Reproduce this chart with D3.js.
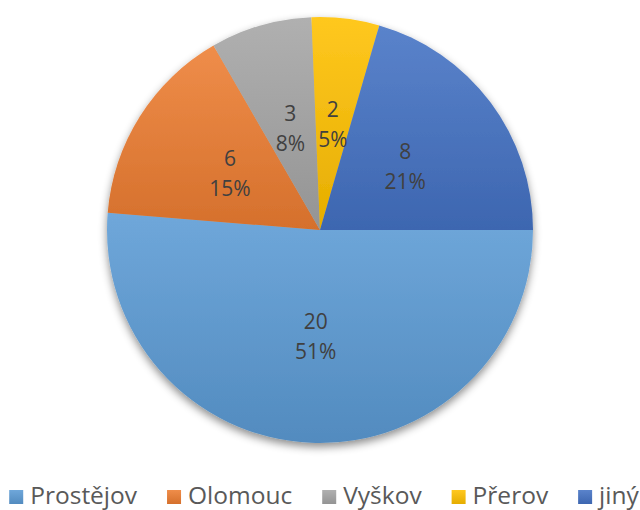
<!DOCTYPE html>
<html>
<head>
<meta charset="utf-8">
<script src="https://cdn.jsdelivr.net/npm/d3@7"></script>
<style>
  body { margin: 0; background: #fff; }
  svg { display: block; }
</style>
</head>
<body>
<div id="chart"></div>
<script>
const categories = ['Prostějov', 'Olomouc', 'Vyškov', 'Přerov', 'jiný'];
const values = [20, 6, 3, 2, 8];
const colors = ['#5B9BD5', '#ED7D31', '#A5A5A5', '#FFC000', '#4472C4'];

const w = 640;
const h = 510;
const cx = 320;
const cy = 230;
const r = 213;

const data = categories.map((c, i) => ({ name: c, value: values[i], color: colors[i] }));
const total = d3.sum(values);

const svg = d3
  .select('#chart')
  .append('svg')
  .attr('width', w)
  .attr('height', h);

const defs = svg.append('defs');

const shadow = defs
  .append('filter')
  .attr('id', 'shadow')
  .attr('x', '-10%')
  .attr('y', '-10%')
  .attr('width', '120%')
  .attr('height', '125%');
shadow
  .append('feDropShadow')
  .attr('dx', 0)
  .attr('dy', 4)
  .attr('stdDeviation', 4)
  .attr('flood-color', '#000')
  .attr('flood-opacity', 0.45);

data.forEach((d, i) => {
  const g = defs
    .append('linearGradient')
    .attr('id', 'grad' + i)
    .attr('x1', 0)
    .attr('y1', 0)
    .attr('x2', 0)
    .attr('y2', 1);
  g.append('stop')
    .attr('offset', '0%')
    .attr('stop-color', d3.interpolateRgb(d.color, '#fff')(0.12));
  g.append('stop')
    .attr('offset', '100%')
    .attr('stop-color', d3.rgb(d.color).darker(0.3));
});

const pie = d3
  .pie()
  .sort(null)
  .value((d) => d.value)
  .startAngle(Math.PI / 2)
  .endAngle(Math.PI / 2 + 2 * Math.PI);

const arc = d3.arc().innerRadius(0).outerRadius(r);
const labelArc = d3.arc().innerRadius(r * 0.5).outerRadius(r * 0.5);

const arcs = pie(data);

const g = svg.append('g').attr('transform', 'translate(' + cx + ',' + cy + ')');

g.append('g')
  .attr('filter', 'url(#shadow)')
  .selectAll('path')
  .data(arcs)
  .enter()
  .append('path')
  .attr('d', arc)
  .attr('fill', (d, i) => 'url(#grad' + i + ')');

const labels = g
  .selectAll('text.label')
  .data(arcs)
  .enter()
  .append('text')
  .attr('class', 'label')
  .attr('transform', (d) => 'translate(' + labelArc.centroid(d) + ')')
  .attr('text-anchor', 'middle')
  .style('font-family', '"Open Sans", sans-serif')
  .style('font-size', '21px')
  .style('fill', '#404040');

labels
  .append('tspan')
  .attr('x', 0)
  .attr('y', -7)
  .text((d) => d.data.value);

labels
  .append('tspan')
  .attr('x', 0)
  .attr('y', 23)
  .text((d) => Math.round((d.data.value / total) * 100) + '%');

// legend
const legend = svg.append('g').attr('class', 'legend');
const sq = 14;
const gap = 7;
const itemGap = 30;
let x = 0;
data.forEach((d, i) => {
  const item = legend.append('g').attr('transform', 'translate(' + x + ',0)');
  item
    .append('rect')
    .attr('x', 0)
    .attr('y', -14)
    .attr('width', sq)
    .attr('height', sq)
    .attr('fill', 'url(#grad' + i + ')');
  const t = item
    .append('text')
    .attr('x', sq + gap)
    .attr('y', 0)
    .style('font-family', '"Open Sans", sans-serif')
    .style('font-size', '24.5px')
    .style('fill', '#595959')
    .text(d.name);
  x += sq + gap + t.node().getComputedTextLength() + itemGap;
});
const legendW = x - itemGap;
legend.attr('transform', 'translate(' + (324 - legendW / 2) + ',504)');
</script>
</body>
</html>
